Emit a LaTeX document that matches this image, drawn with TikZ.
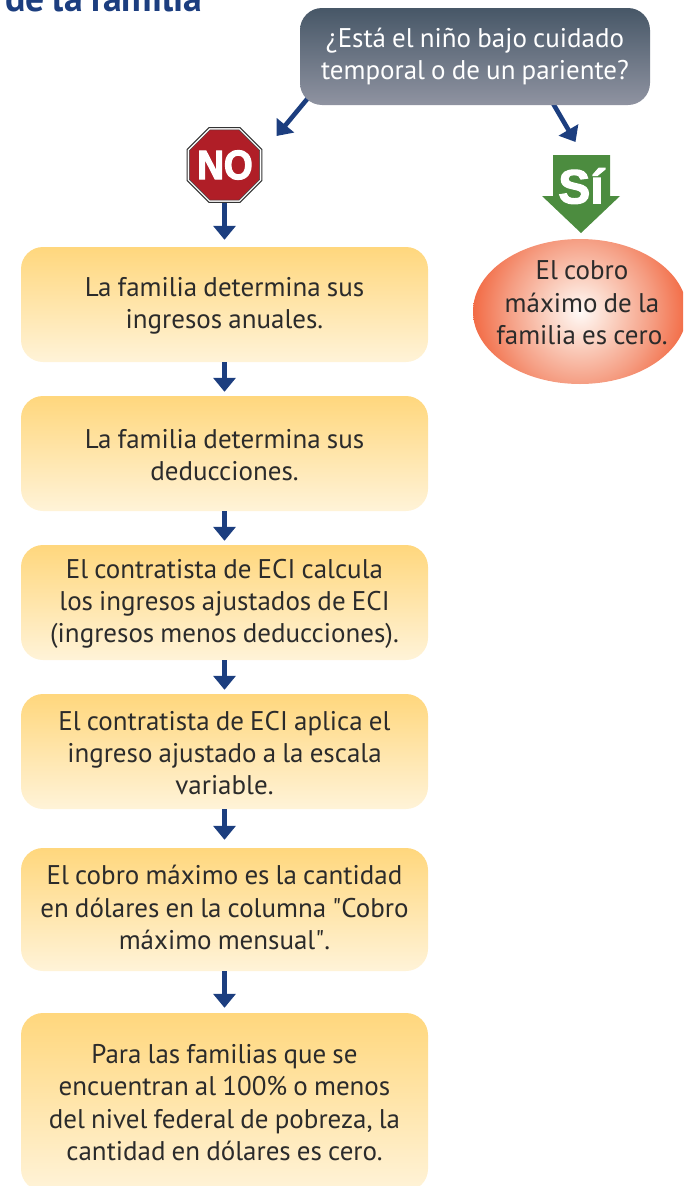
\documentclass[tikz,border=0pt]{standalone}
\usepackage{fontspec}
\setmainfont[WordSpace=0.85]{PT Sans}
\newfontfamily\plainquote{PT Sans}
\newfontfamily\heavyfont[BoldFeatures={FakeBold=3,FakeStretch=.9}]{Liberation Sans}
\newfontfamily\heavywide[BoldFeatures={FakeBold=2.5,FakeStretch=1.0}]{Liberation Sans}
\usetikzlibrary{arrows.meta,shapes.geometric}
\definecolor{arrblue}{HTML}{1C3E7F}
\definecolor{txt}{HTML}{2B2B2B}
\definecolor{boxtop}{HTML}{FFD77D}
\definecolor{boxbot}{HTML}{FFF3D8}
\definecolor{qtop}{HTML}{475767}
\definecolor{qbot}{HTML}{8F93A1}
\definecolor{stopred}{HTML}{B01E27}
\definecolor{sigreen}{HTML}{4C8C3F}
\definecolor{sunA}{HTML}{FFFAF7}
\definecolor{sunB}{HTML}{FBD5C6}
\definecolor{sunC}{HTML}{F59D82}
\definecolor{sunD}{HTML}{F26B45}
\pgfdeclareradialshading{sunball}{\pgfpointorigin}{color(0bp)=(sunA); color(7bp)=(sunB); color(17bp)=(sunC); color(25bp)=(sunD); color(50bp)=(sunD)}
\newcommand\lowtext[2][1.5pt]{\raisebox{-#1}[\height][\depth]{\parbox{407pt}{\centering #2}}}
\tikzset{
  flow/.style={draw=arrblue,line width=4.6pt,-{Triangle[length=14pt,width=22pt]}},
  bodyfont/.style={font=\fontsize{27}{32.3}\selectfont},
  stepbox/.style={rounded corners=22pt,minimum width=407pt,inner sep=0pt,top color=boxtop,bottom color=boxbot,
    text=txt,bodyfont},
}
\begin{document}
\begin{tikzpicture}[x=1pt,y=-1pt]
\useasboundingbox (0,0) rectangle (683,1186);
\clip (0,0) rectangle (683,1186);
% title
\node[anchor=base west,inner sep=0pt,text=arrblue,font=\fontsize{37.8}{40}\selectfont\bfseries] (title) at (5,11) {de la familia};
% free ends
\coordinate (qleft) at (308,98);
\coordinate (noend) at (276.5,136);
\coordinate (qright) at (551,100);
\coordinate (siend) at (575.5,142);
\draw[flow] (qleft) -- (noend);
\draw[flow] (qright) -- (siend);
% question
\node[rounded corners=22pt,minimum width=350pt,minimum height=97pt,inner sep=0pt,
  top color=qtop,bottom color=qbot,text=white,bodyfont,align=center] (q) at (475,56.5)
  {¿Está el niño bajo cuidado\\temporal o de un pariente?};
% NO
\node[regular polygon,regular polygon sides=8,minimum size=81pt,inner sep=0pt,draw=black!80,line width=1pt,fill=white] (no) at (224.5,165) {};
\node[regular polygon,regular polygon sides=8,minimum size=76pt,inner sep=0pt,fill=stopred,draw=black!75,line width=.5pt] (nored) at (224.5,165) {};
\node[inner sep=0pt,text=white,font=\fontsize{41}{41}\heavyfont\bfseries] (notext) at (225,165) {NO};
% Si
\fill[sigreen] (553,155) -- (610,155) -- (610,196) -- (620,196) -- (581,233) -- (542,196) -- (553,196) -- cycle;
\node[inner sep=0pt,text=white,font=\fontsize{48}{48}\heavywide\bfseries] (si) at (581,186) {Sí};
% ellipse
\begin{scope}
\clip (580,311.5) ellipse [x radius=107,y radius=72.5];
\shade[shading=sunball] (580,311.5) circle [radius=107];
\end{scope}
\node[ellipse,minimum width=214pt,minimum height=145pt,inner sep=0pt,text=txt,bodyfont,align=center] (cero) at (582,303)
  {El cobro\\máximo de la\\familia es cero.};
% boxes
\node[stepbox,minimum height=115pt] (b1) at (224.5,304.5) {\lowtext{La familia determina sus\\ingresos anuales.}};
\node[stepbox,minimum height=115pt] (b2) at (224.5,453.5) {\lowtext{La familia determina sus\\deducciones.}};
\node[stepbox,minimum height=115pt] (b3) at (224.5,602.5) {\lowtext{El contratista de ECI calcula\\los ingresos ajustados de ECI\\(ingresos menos deducciones).}};
\node[stepbox,minimum height=115pt] (b4) at (224.5,751.5) {\lowtext{El contratista de ECI aplica el\\ingreso ajustado a la escala\\variable.}};
\node[stepbox,minimum height=123pt] (b5) at (224.5,909.5) {\lowtext[-2pt]{El cobro máximo es la cantidad\\en dólares en la columna {\plainquote"}Cobro\\máximo mensual{\plainquote"}.}};
\node[stepbox,minimum height=178pt] (b6) at (224.5,1102) {\lowtext[0.5pt]{Para las familias que se\\encuentran al 100\% o menos\\del nivel federal de pobreza, la\\cantidad en dólares es cero.}};
% connectors
\draw[flow,shorten >=7pt] (no.south) -- (b1.north);
\draw[flow,shorten >=4pt] (b1.south) -- (b2.north);
\draw[flow,shorten >=4pt] (b2.south) -- (b3.north);
\draw[flow,shorten >=4pt] (b3.south) -- (b4.north);
\draw[flow,shorten >=8pt] (b4.south) -- (b5.north);
\draw[flow,shorten >=5pt] (b5.south) -- (b6.north);
\end{tikzpicture}
\end{document}
